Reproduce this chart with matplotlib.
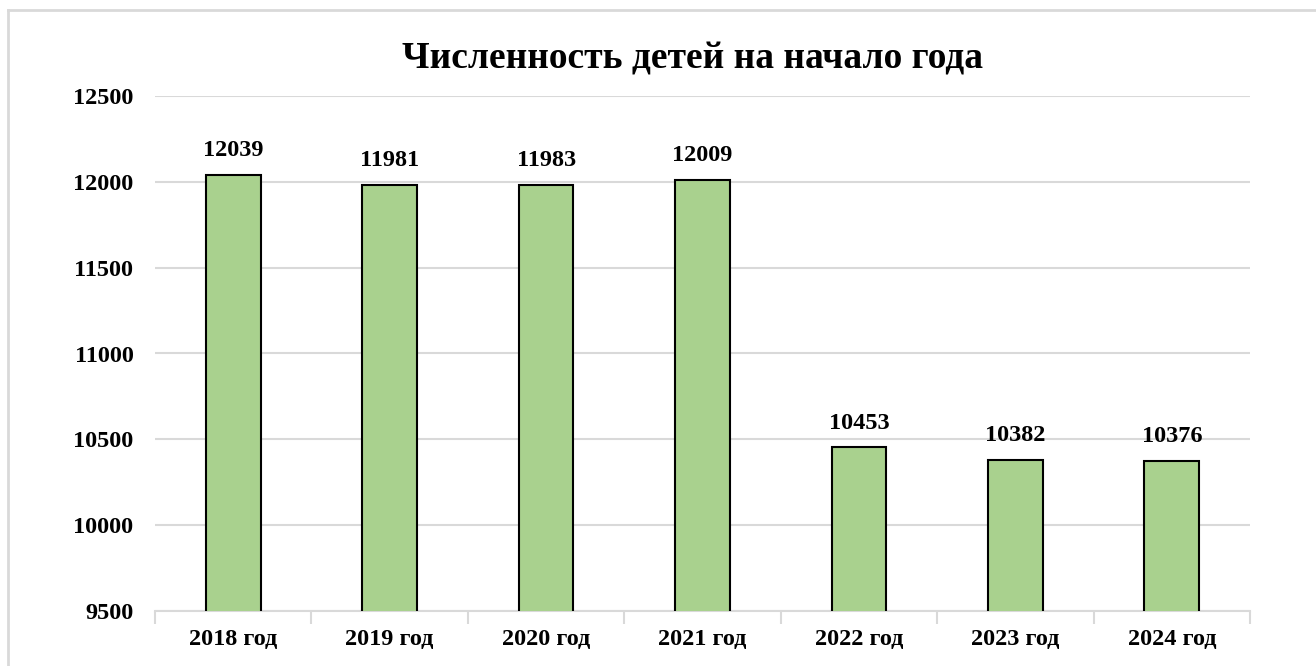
import numpy as np
from matplotlib import pyplot as plt
from matplotlib.lines import Line2D

years = ['2018 год', '2019 год', '2020 год', '2021 год', '2022 год', '2023 год', '2024 год']
children = [12039, 11981, 11983, 12009, 10453, 10382, 10376]
y_ticks = [9500, 10000, 10500, 11000, 11500, 12000, 12500]

plt.rcParams['font.family'] = ['Liberation Serif', 'DejaVu Serif']
plt.rcParams['font.weight'] = 'bold'

fig = plt.figure(figsize=(13.16, 6.66), dpi=100)
ax = fig.add_axes([155/1316, 1 - 611/666, (1250-155)/1316, (611-96)/666])

x = np.arange(len(years))
ax.bar(x, children, width=0.35, bottom=0, color='#A9D18E', edgecolor='black', linewidth=1.5, zorder=3)

for xi, v in zip(x, children):
    ax.annotate(str(v), (xi, v), xytext=(0, 10), textcoords='offset points',
                ha='center', va='bottom', fontsize=17.5, fontweight='bold')

ax.set_xlim(-0.5, len(years) - 0.5)
ax.set_ylim(y_ticks[0], y_ticks[-1])
ax.set_yticks(y_ticks)
ax.set_yticklabels([str(t) for t in y_ticks], fontsize=17.5, fontweight='bold')
ax.tick_params(axis='y', length=0, pad=15.5)
ax.yaxis.grid(True, color='#D9D9D9', linewidth=1.5)
ax.set_axisbelow(True)

# category labels at centres, tick marks between categories
ax.set_xticks(np.arange(-0.5, len(years)), minor=False)
ax.set_xticklabels([])
ax.tick_params(axis='x', which='major', length=9, width=1.5, color='#D9D9D9')
ax.set_xticks(x, minor=True)
ax.set_xticklabels(years, minor=True, fontsize=17.5, fontweight='bold')
ax.tick_params(axis='x', which='minor', length=0, pad=13)

for s in ['top', 'right', 'left']:
    ax.spines[s].set_visible(False)
ax.spines['bottom'].set_color('#D9D9D9')
ax.spines['bottom'].set_linewidth(1.5)

fig.text(692/1316, 1 - 59/666, 'Численность детей на начало года',
         ha='center', va='center', fontsize=27, fontweight='bold')

# outer frame (left and top visible)
fig.add_artist(Line2D([8/1316, 8/1316], [0, 1 - 10/666], color='#D9D9D9', linewidth=2))
fig.add_artist(Line2D([8/1316, 1], [1 - 10/666, 1 - 10/666], color='#D9D9D9', linewidth=2))

fig.savefig('out.png', dpi=100)
